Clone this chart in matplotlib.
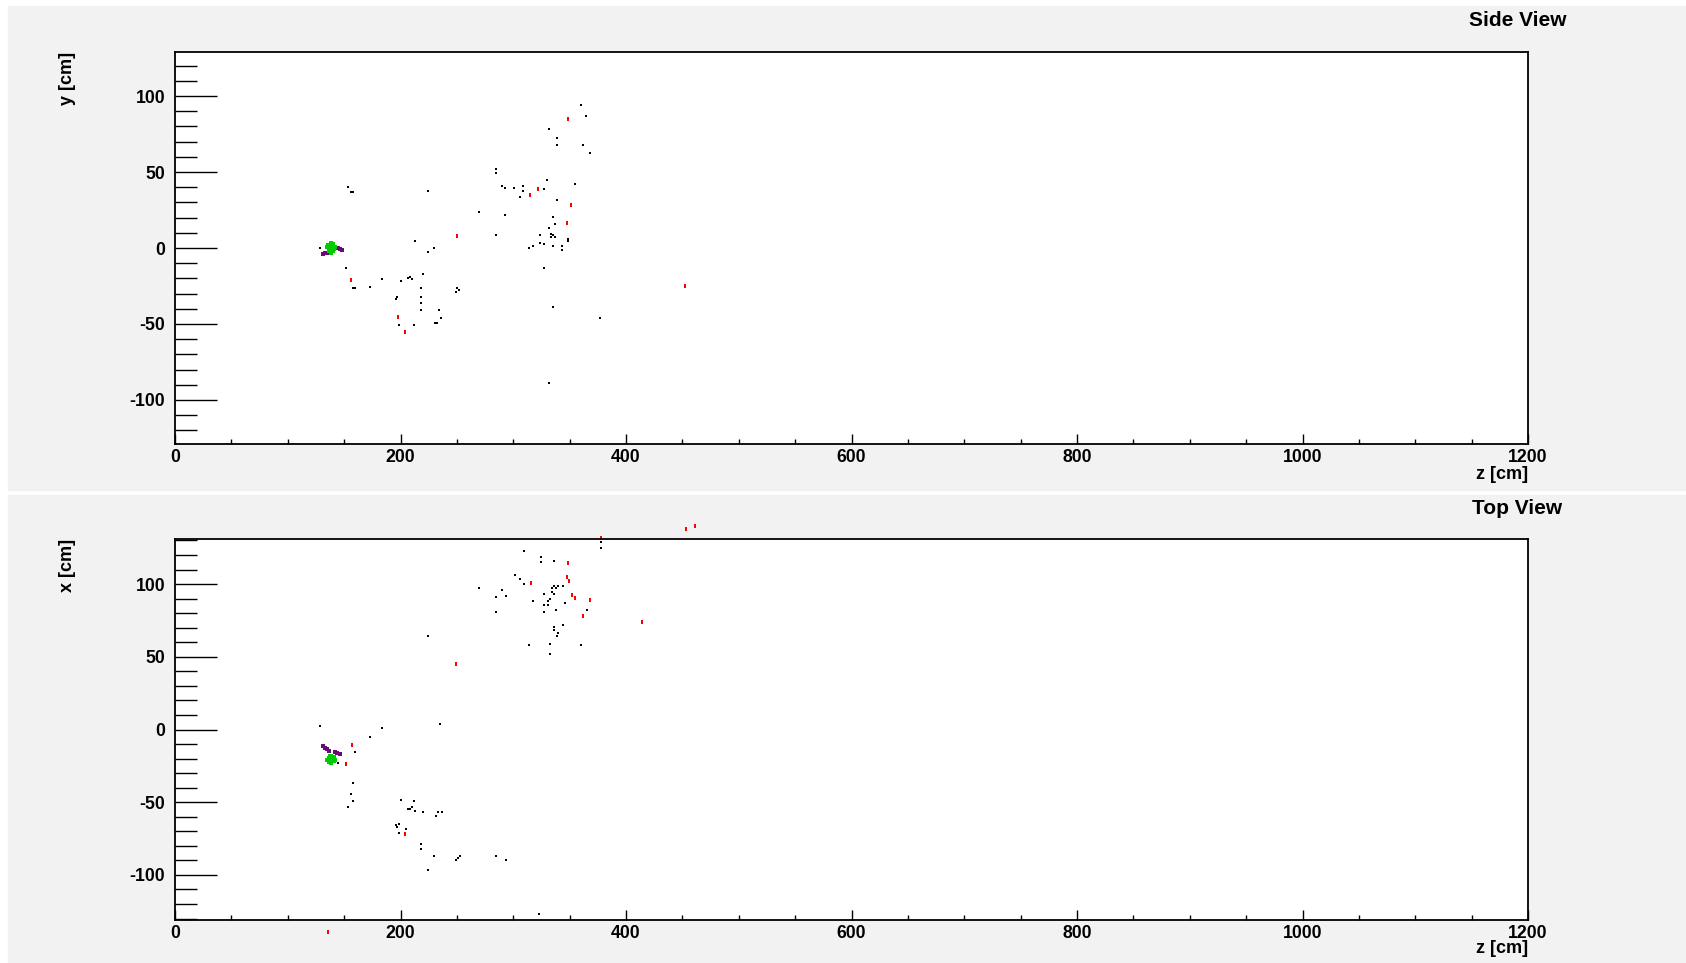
from __future__ import annotations

import matplotlib

matplotlib.use("Agg")
import matplotlib.pyplot as plt
from matplotlib.patches import Rectangle
from matplotlib.ticker import MultipleLocator

plt.rcParams["axes.unicode_minus"] = False

FONT = ["Liberation Sans", "DejaVu Sans"]
PAD_GREY = "#f2f2f2"
# short upright dash, like the hit markers of the event display
HIT_MARK = [(-0.5, -1.0), (0.5, -1.0), (0.5, 1.0), (-0.5, 1.0)]

# side view hits: (z, y) in cm
side_black_z = [128.6, 153, 156, 158, 151.7, 158, 160, 172.7, 184, 200.4, 207, 208.4, 210, 213,
                220, 218, 218, 218, 218, 196, 197, 199, 211.7, 224.7, 224.7, 229.7, 234.4, 236,
                231, 232.7, 249.8, 251.6, 249, 270, 284.7, 284.7, 284.7, 289.7, 293, 293, 301,
                306, 309, 309, 314, 317.5, 323.7, 323.7, 327, 327, 327, 330, 332, 332, 333.5,
                335, 336.7, 333.5, 335, 336.7, 335, 335, 332, 338.5, 338.5, 338.5, 343.5, 343.5,
                348.3, 348.3, 355, 359.8, 361.6, 364.8, 368, 377]
side_black_y = [0, 40, 37, 37, -13.4, -26.5, -26.5, -25.4, -20.4, -21.7, -20, -19.3, -20.4, 4.8,
                -17, -26.5, -32.5, -36.2, -41, -33.5, -32.5, -51, -51, 37.3, -2.4, 0, -41, -45.8,
                -49.3, -49.3, -26.5, -27.4, -29, 24, 52, 49.3, 8.3, 41, 39.7, 21.7, 39.7,
                33.8, 41, 37.3, 0, 1, 8.3, 3.5, 2.4, -13.4, 38.6, 44.7, 78.3, 13, 9.4,
                8.3, 7, 7.2, 20.4, 15.6, 1, -38.6, -89, 72.4, 67.5, 31.4, 1, -1.3,
                6, 4.8, 42, 94, 67.5, 86.8, 62.5, -45.8]
side_red_z = [349, 322, 314.6, 351.5, 347.4, 249.8, 156.4, 197.5, 204.3, 452]
side_red_y = [84.9, 39, 34.9, 28.3, 16.7, 7.7, -21, -45.2, -55, -24.8]
side_purple_z = [131.5, 133, 134.5, 144.5, 146.5, 148.5]
side_purple_y = [-4.2, -3.6, -3.2, -0.3, -0.8, -1.2]
side_green_z = [138.4, 136, 141, 138.5, 137, 140.5, 140, 136.2, 138.4, 135, 141.8]
side_green_y = [0.5, 2, -0.8, 3.5, -2, 2.5, -2.2, -0.5, -3, 0.8, 0.8]

# top view hits: (z, x) in cm
top_black_z = [128.2, 184, 172.8, 234.7, 224.8, 159.5, 144.9, 158.2, 156.5, 158.2, 153, 200.7,
               211.6, 206.5, 208, 209.9, 213.3, 219.7, 231.3, 233, 236.4, 195.6, 196.6, 199,
               199, 204.8, 218, 218, 229.6, 249.3, 251, 252.7, 224.8, 284.7, 293.2, 322.8,
               269.7, 285, 285, 289.8, 293.2, 301.4, 306, 309.5, 309.5, 314.3, 317.7, 324.5,
               324.5, 327.6, 327.6, 331, 327.6, 331, 332.6, 334.4, 334.4, 336, 336, 337.8,
               339.5, 336, 332.6, 332.6, 336, 336, 339.5, 338.4, 337.8, 344.2, 344.2, 346,
               360, 365, 378.2, 378.2]
top_black_x = [2.3, 0.9, -5.3, 3.5, 64.4, -15.4, -23, -36.8, -44.4, -49.5, -53.4, -48.3,
               -49.5, -54.5, -54.5, -53.4, -55.9, -57, -59.6, -57, -57, -65.8, -67.2, -64.7,
               -70.9, -68.4, -78.5, -82.2, -87.2, -89.8, -88.4, -87.2, -96.9, -87.2, -89.8, -126.6,
               97.1, 90.9, 80.8, 96, 92, 106, 103.6, 99.9, 122.7, 58, 88.4, 118.8,
               115, 93.4, 85.8, 85.8, 80.8, 88.4, 89.8, 97.4, 94.6, 93.4, 98.5, 97.4,
               98.5, 116.2, 59.1, 51.8, 70.7, 68.1, 66.7, 64.4, 82.2, 98.5, 72, 87,
               58, 82.2, 128.9, 125]
top_red_z = [377.9, 453.4, 460.9, 315.3, 348.3, 347.6, 349.3, 352, 354.8, 368.4, 361.9, 414,
             249.3, 156.7, 151.4, 204, 135.7]
top_red_x = [132, 137.9, 139.7, 100.8, 114.6, 104.7, 102, 92.7, 90.4, 89, 77.8, 73.6,
             44.9, -10.8, -23.6, -72, -139.2]
top_purple_z = [131.5, 132.8, 134.5, 136.5, 141.5, 144, 146]
top_purple_x = [-11.2, -12.5, -13.6, -15, -15.5, -16, -17]
top_green_z = [138.4, 136.2, 140.8, 138, 136.2, 140.8, 140, 137.4, 135.2, 141.8, 138.4]
top_green_x = [-20.5, -19.5, -21.5, -23, -22.2, -18.8, -19.8, -18.2, -20.8, -20.8, -18.5]

Z_TICKS = [0, 200, 400, 600, 800, 1000, 1200]


def draw_view(ax, hits, ylim: float, ylabel: str) -> None:
    black, red, purple, green = hits
    ax.plot(*black, "s", color="black", markersize=1.5, markeredgewidth=0)
    ax.plot(*red, linestyle="none", marker=HIT_MARK, color="#ff0000", markersize=3.2,
            markeredgewidth=0, clip_on=False)
    ax.plot(*purple, "s", color="#6a0a7a", markersize=3.2, markeredgewidth=0)
    ax.plot(*green, "s", color="#00cc00", markersize=3.4, markeredgewidth=0)

    ax.set_xlim(0, 1200)
    ax.set_ylim(-ylim, ylim)
    ax.set_xticks(Z_TICKS)
    ax.xaxis.set_minor_locator(MultipleLocator(50))
    ax.yaxis.set_major_locator(MultipleLocator(50))
    ax.yaxis.set_minor_locator(MultipleLocator(10))
    ax.tick_params(axis="x", which="major", direction="in", length=7.5, width=1.0, pad=3.5,
                   top=False, labelsize=12.7)
    ax.tick_params(axis="x", which="minor", direction="in", length=3.8, width=1.0, top=False)
    ax.tick_params(axis="y", which="major", direction="in", length=30, width=1.0, pad=7,
                   right=False, labelsize=12.7)
    ax.tick_params(axis="y", which="minor", direction="in", length=16, width=1.0, right=False)
    for lab in ax.get_xticklabels() + ax.get_yticklabels():
        lab.set_fontweight("bold")
        lab.set_family(FONT)
    for spine in ax.spines.values():
        spine.set_linewidth(1.3)
    ax.set_facecolor("white")

    ax.text(-0.0798, 1.0, ylabel, transform=ax.transAxes, rotation=90, ha="center", va="top",
            fontsize=13, fontweight="bold", family=FONT)


def main() -> None:
    fig = plt.figure(figsize=(16.86, 9.63), dpi=100)
    fig.patch.set_facecolor("white")
    W, H = 1686, 963
    fig.patches.append(Rectangle((8 / W, 1 - 490 / H), 1 - 8 / W, 484 / H,
                                 transform=fig.transFigure, color=PAD_GREY, zorder=-10))
    fig.patches.append(Rectangle((8 / W, 0), 1 - 8 / W, 1 - 495 / H,
                                 transform=fig.transFigure, color=PAD_GREY, zorder=-10))

    ax_side = fig.add_axes([175 / W, 1 - 444 / H, 1353 / W, 392 / H])
    ax_top = fig.add_axes([175 / W, 1 - 920 / H, 1353 / W, 381 / H])

    draw_view(ax_side,
              ((side_black_z, side_black_y), (side_red_z, side_red_y),
               (side_purple_z, side_purple_y), (side_green_z, side_green_y)),
              129, "y [cm]")
    draw_view(ax_top,
              ((top_black_z, top_black_x), (top_red_z, top_red_x),
               (top_purple_z, top_purple_x), (top_green_z, top_green_x)),
              131, "x [cm]")

    ax_side.text(1.0, -0.079, "z [cm]", transform=ax_side.transAxes, ha="right", va="center",
                 fontsize=13, fontweight="bold", family=FONT)
    ax_top.text(1.0, -0.0735, "z [cm]", transform=ax_top.transAxes, ha="right", va="center",
                fontsize=13, fontweight="bold", family=FONT)

    fig.text(1518 / W, 1 - 20.7 / H, "Side View", ha="center", va="center",
             fontsize=15, fontweight="bold", family=FONT)
    fig.text(1517 / W, 1 - 508 / H, "Top View", ha="center", va="center",
             fontsize=15, fontweight="bold", family=FONT)

    fig.savefig("out.png", dpi=100, facecolor=fig.get_facecolor())
    plt.close(fig)


if __name__ == "__main__":
    main()
